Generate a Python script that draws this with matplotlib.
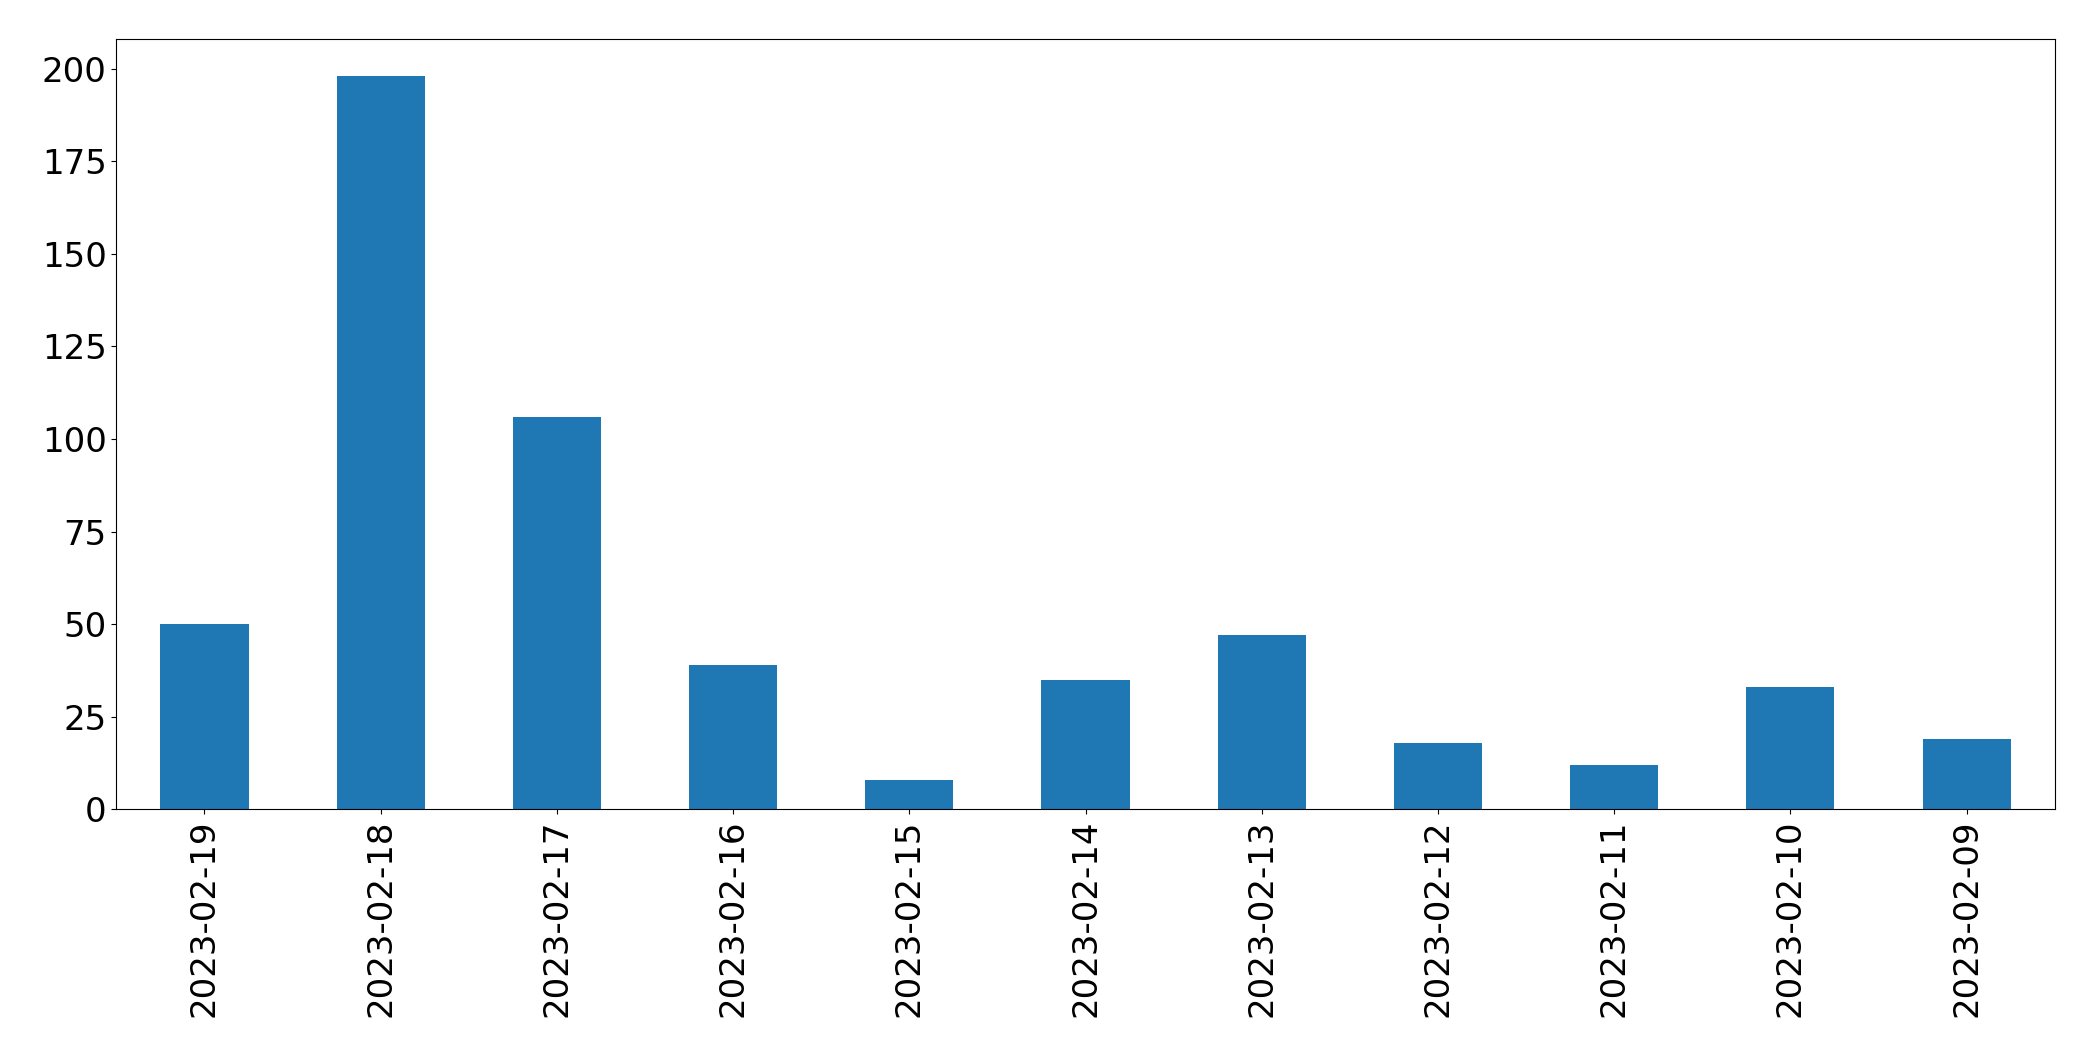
import matplotlib
matplotlib.use("Agg")
import matplotlib.pyplot as plt

# Daily counts, newest first
dates = ["2023-02-19", "2023-02-18", "2023-02-17", "2023-02-16", "2023-02-15",
         "2023-02-14", "2023-02-13", "2023-02-12", "2023-02-11", "2023-02-10",
         "2023-02-09"]
counts = [50, 198, 106, 39, 8, 35, 47, 18, 12, 33, 19]

fig = plt.figure(figsize=(20.93, 10.61), dpi=100)
ax = fig.add_axes([0.0556, 0.2372, 0.9261, 0.7258])

x = list(range(len(dates)))
ax.bar(x, counts, width=0.5, color="#1f77b4")
ax.set_xticks(x)
ax.set_xticklabels(dates, rotation=90)
ax.set_xlim(-0.5, len(dates) - 0.5)
ax.set_ylim(0, max(counts) * 1.05)
ax.set_yticks(range(0, 201, 25))

ax.tick_params(axis="both", labelsize=24.5)

fig.savefig("out.png", dpi=100)
